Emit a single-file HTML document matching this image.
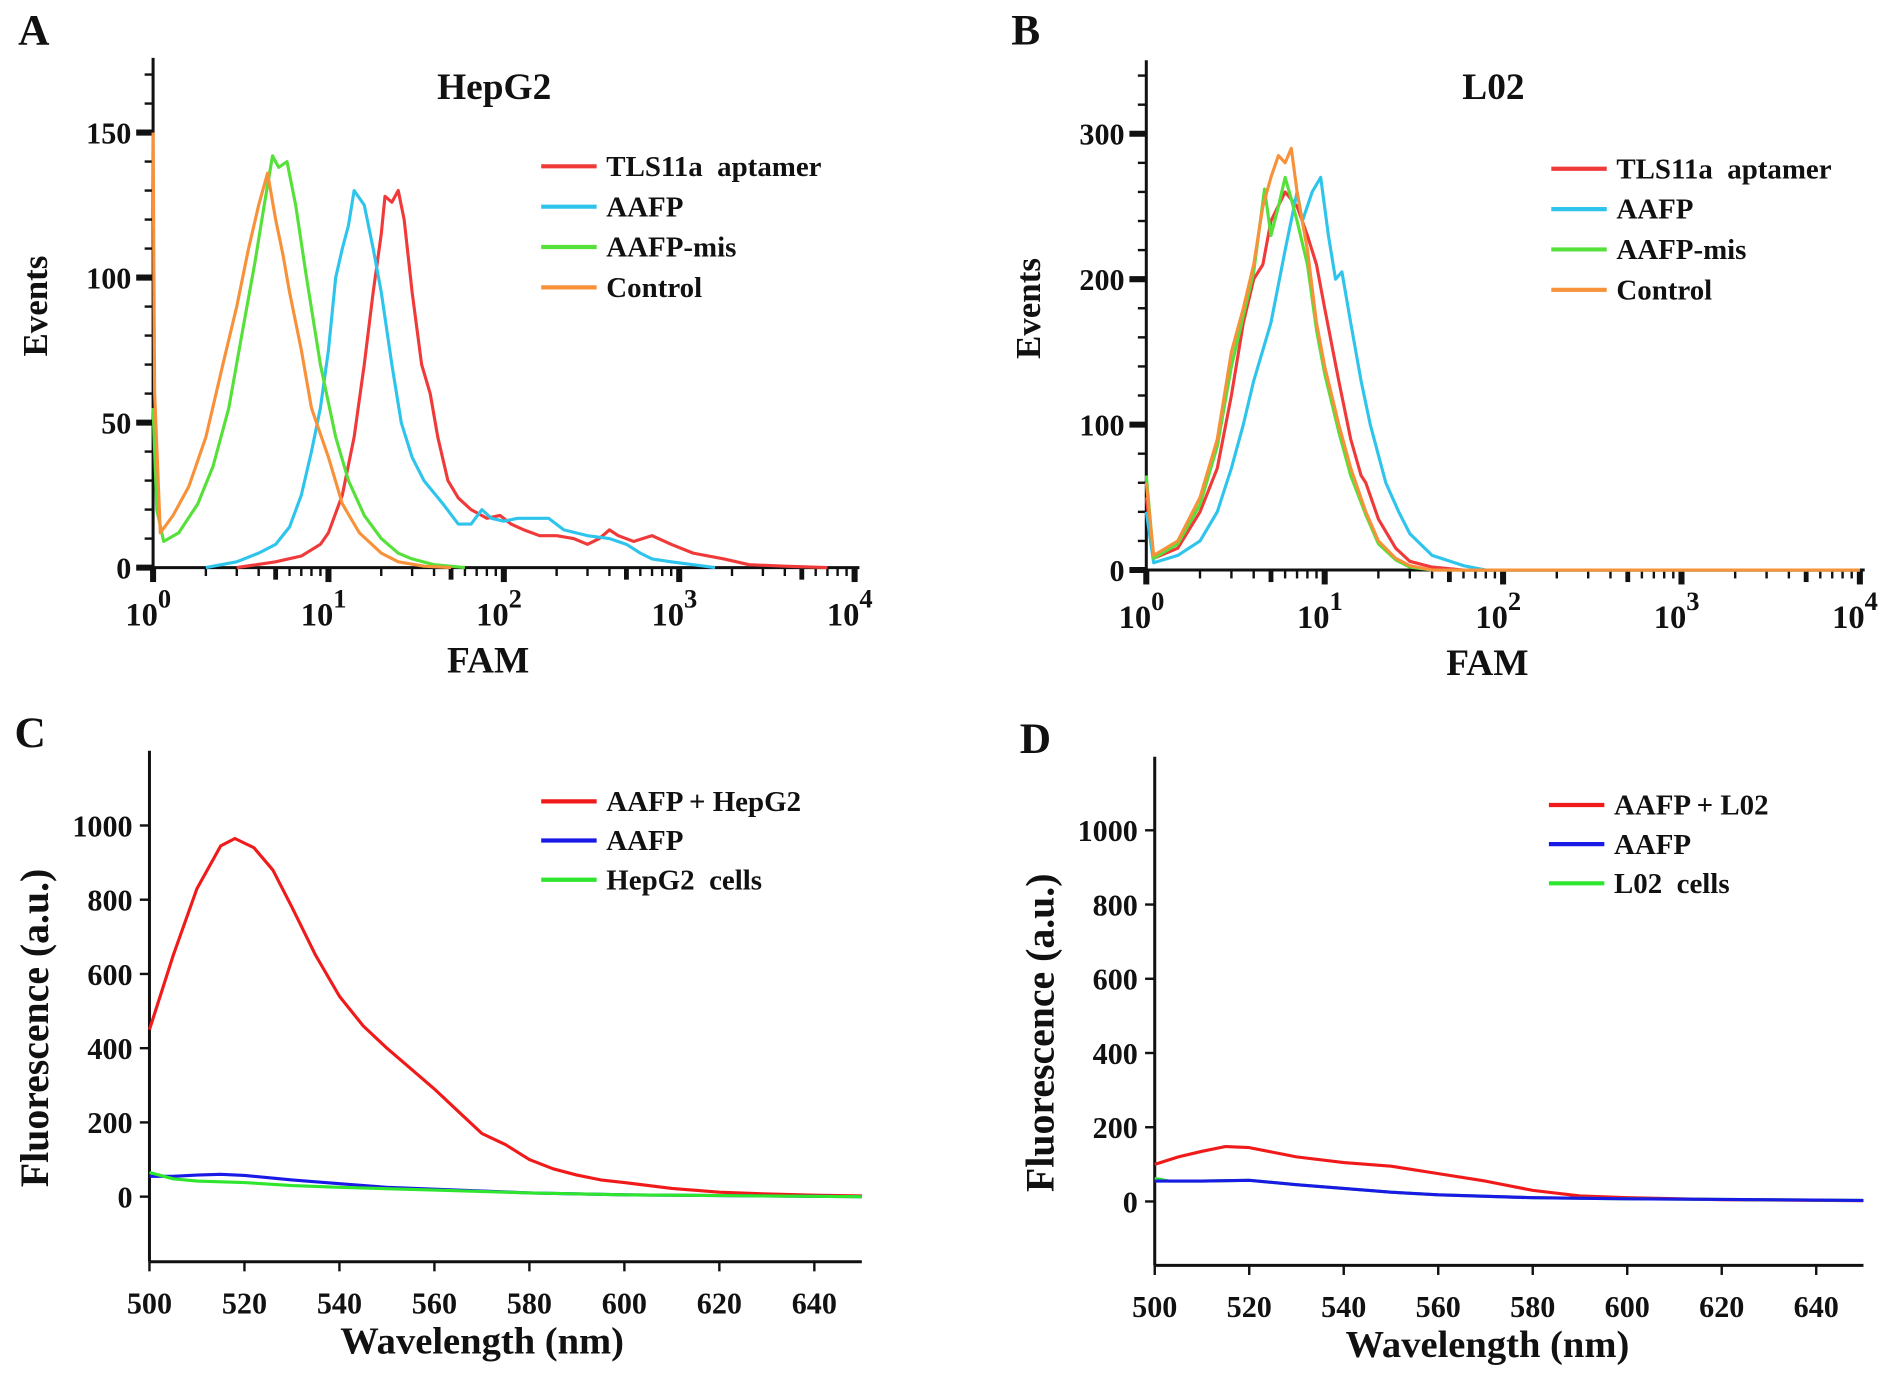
<!DOCTYPE html>
<html><head><meta charset="utf-8">
<style>
html,body{margin:0;padding:0;background:#fff;}
svg{display:block;font-family:"Liberation Serif",serif;font-weight:bold;}
text{white-space:pre;}
</style></head>
<body>
<svg id="fig" width="1890" height="1375" viewBox="0 0 1568 1141" preserveAspectRatio="none" xmlns="http://www.w3.org/2000/svg">
<g id="A"></g>
<g id="B"></g>
<g id="C"></g>
<g id="D"></g>
</svg>
<script>
// ---- Panel A (HepG2 flow cytometry): FAM (log) vs events ----
const aCtrlX=[1.0,1.02,1.1,1.3,1.6,2.0,2.5,3,3.5,4,4.5,5,5.5,6,7,8,10,12,15,20,25,35,50];
const aCtrlY=[150,60,12,18,28,45,70,90,110,125,136,120,108,95,75,55,38,22,12,5,2,0.5,0];
const aMisX=[1.0,1.05,1.15,1.4,1.8,2.2,2.7,3.2,3.8,4.3,4.8,5.2,5.8,6.5,7.5,9,11,13,16,20,25,30,40,60];
const aMisY=[55,20,9,12,22,35,55,80,105,125,142,138,140,125,100,70,45,30,18,10,5,3,1,0];
const aAafpX=[2,3,4,5,6,7,8,9,10,11,12,13,14,16,18,20,23,26,30,35,45,55,65,75,85,100,120,150,180,220,300,400,500,600,700,900,1200,1600];
const aAafpY=[0,2,5,8,14,25,40,55,75,100,110,118,130,125,110,95,70,50,38,30,22,15,15,20,17,16,17,17,17,13,11,10,8,5,3,2,1,0];
const aTlsX=[3,5,7,9,10,12,14,16,18,20,21,23,25,27,30,34,38,42,48,55,65,80,95,110,130,160,200,250,300,350,400,450,550,700,900,1200,1800,2500,4000,7000];
const aTlsY=[0,2,4,8,12,25,45,70,95,115,128,126,130,120,95,70,60,45,30,24,20,17,18,15,13,11,11,10,8,10,13,11,9,11,8,5,3,1,0.5,0];
const aYTicks=[0,50,100,150];
// ---- Panel B (L02) ----
const bCtrlX=[1,1.1,1.5,2,2.5,3,3.5,4,4.5,5,5.5,6,6.5,7,8,9,10,12,14,17,20,25,30,40,10000];
const bCtrlY=[60,10,20,50,90,150,180,210,250,270,285,280,290,260,220,170,140,100,70,40,20,8,3,0,0];
const bMisX=[1,1.1,1.5,2,2.5,3,3.5,4,4.6,5,5.5,6,6.5,7,8,9,10,12,14,17,20,25,30,40,10000];
const bMisY=[65,8,18,45,85,140,175,205,262,230,250,270,255,240,210,165,135,95,65,38,18,7,2,0,0];
const bTlsX=[1,1.1,1.5,2,2.5,3,3.5,4,4.5,5,6,7,8,9,10,12,14,16,17,20,25,30,40,60,10000];
const bTlsY=[50,8,15,40,70,120,170,200,210,240,260,250,230,210,180,130,90,65,60,35,15,6,2,0,0];
const bAafpX=[1,1.1,1.5,2,2.5,3,3.5,4,5,6,7,7.5,8.5,9.5,10.5,11.5,12.5,14,16,18,22,26,30,40,60,80,10000];
const bAafpY=[40,5,10,20,40,70,100,130,170,220,260,240,260,270,230,200,205,170,130,100,60,40,25,10,3,0,0];
const bYTicks=[0,100,200,300];
const decades=[0,1,2,3,4];
// ---- Panel C (HepG2 spectra) ----
const cRedX=[500,505,510,515,518,522,526,530,535,540,545,550,555,560,565,570,575,580,585,590,595,600,610,620,630,640,650];
const cRedY=[450,650,830,945,965,940,880,780,650,540,460,400,345,290,230,170,140,100,75,58,45,38,22,12,7,4,2];
const cBlueX=[500,505,510,515,520,530,540,550,560,580,600,620,650];
const cBlueY=[55,55,58,60,57,45,35,25,20,10,5,3,0];
const cGreenX=[500,505,510,520,530,540,560,580,600,620,650];
const cGreenY=[65,48,42,38,30,25,18,10,5,3,0];
// ---- Panel D (L02 spectra) ----
const dRedX=[500,505,510,515,520,530,540,550,560,570,580,590,600,620,650];
const dRedY=[100,120,135,148,145,120,105,95,75,55,30,15,10,5,2];
const dBlueX=[500,510,520,530,540,550,560,580,600,650];
const dBlueY=[55,55,57,45,35,25,18,10,7,3];
const dGreenX=[500,503,510,520,530,540,550,560,580,600,650];
const dGreenY=[62,55,55,57,45,35,25,18,10,7,3];
const wlTicks=[500,520,540,560,580,600,620,640];
const flTicks=[0,200,400,600,800,1000];

const NS="http://www.w3.org/2000/svg";
function mk(parent,tag,attrs){const e=document.createElementNS(NS,tag);for(const k in attrs)e.setAttribute(k,attrs[k]);parent.appendChild(e);return e;}
function txt(parent,x,y,s,size,anchor,name){const t=mk(parent,'text',{x:x,y:y,'font-size':size,'text-anchor':anchor||'start',fill:'#111'});t.textContent=s;


return t;}
function line(parent,x1,y1,x2,y2,w,name){const l=mk(parent,'line',{x1:x1,y1:y1,x2:x2,y2:y2,stroke:'#111','stroke-width':w});


return l;}
function series(parent,xs,ys,sx,sy,color,name){let d='';xs.forEach((v,i)=>{d+=(i?'L':'M')+sx(v).toFixed(1)+','+sy(ys[i]).toFixed(1);});
const p=mk(parent,'path',{d:d,fill:'none',stroke:color,'stroke-width':2.6,'stroke-linejoin':'round'});

}
function legend(parent,x,y0,dy,items){items.forEach((it,i)=>{const y=y0+i*dy;
const l=mk(parent,'line',{x1:x,y1:y,x2:x+46,y2:y,stroke:it[1],'stroke-width':3.5});


txt(parent,x+54,y+8,it[0],24,'start','legend-label-'+it[2]);});}

function logPanel(g,o){
 const sx=v=>o.x0+Math.log10(v)*o.dec, sy=v=>o.y0-v*o.k;
 line(g,o.x0,o.top,o.x0,o.y0,2.5,'y-axis');
 line(g,o.x0,o.y0,o.x0+4*o.dec+4,o.y0,2.5,'x-axis');
 for(let v=0;sy(v)>=o.top;v+=o.minor){const maj=o.ticks.includes(v);
  line(g,o.x0-(maj?14:7),sy(v),o.x0,sy(v),maj?5:2,'y-tick');}
 o.ticks.forEach(v=>txt(g,o.x0-18,sy(v)+9,String(v),25,'end','y-tick-label'));
 decades.forEach(d=>{const x=o.x0+d*o.dec;line(g,x,o.y0,x,o.y0+12,5,'x-tick-major');
  const t=txt(g,x-4,o.y0+48,'10',27,'middle','x-tick-label');
  const s=mk(t,'tspan',{dy:-15,'font-size':22});s.textContent=String(d);
  if(d<4)for(let m=2;m<10;m++){const xm=o.x0+(d+Math.log10(m))*o.dec;line(g,xm,o.y0,xm,o.y0+(m==5?10:7),m==5?4:2,'x-tick-minor');}});
 txt(g,o.x0+2*o.dec-13,o.y0+87,'FAM',31,'middle','x-axis-title');
 const yt=txt(g,0,0,'Events',29,'middle','y-axis-title');yt.setAttribute('transform','translate('+(o.x0-88)+','+(o.y0-217)+') rotate(-90)');
 txt(g,o.x0+2*o.dec-8,82,o.title,31,'middle','panel-title');
 txt(g,o.x0-112,37,o.letter,36,'start','panel-letter');
 o.ser.forEach(s=>series(g,s[0],s[1],sx,sy,s[2],s[3]));
 legend(g,o.lx,o.ly,33.5,o.leg);
}
logPanel(document.getElementById('A'),{x0:127,dec:145.5,y0:471,k:361/150,top:48,minor:10,ticks:aYTicks,title:'HepG2',letter:'A',
 ser:[[aTlsX,aTlsY,'#f03a3a','series-tls11a'],[aAafpX,aAafpY,'#2fc4ec','series-aafp'],[aMisX,aMisY,'#55e03a','series-aafp-mis'],[aCtrlX,aCtrlY,'#f7913a','series-control']],
 lx:449,ly:138,leg:[['TLS11a  aptamer','#f03a3a','tls11a'],['AAFP','#2fc4ec','aafp'],['AAFP-mis','#55e03a','aafp-mis'],['Control','#f7913a','control']]});
logPanel(document.getElementById('B'),{x0:951,dec:148,y0:473,k:362/300,top:50,minor:20,ticks:bYTicks,title:'L02',letter:'B',
 ser:[[bTlsX,bTlsY,'#f03a3a','series-tls11a'],[bAafpX,bAafpY,'#2fc4ec','series-aafp'],[bMisX,bMisY,'#55e03a','series-aafp-mis'],[bCtrlX,bCtrlY,'#f7913a','series-control']],
 lx:1287,ly:140,leg:[['TLS11a  aptamer','#f03a3a','tls11a'],['AAFP','#2fc4ec','aafp'],['AAFP-mis','#55e03a','aafp-mis'],['Control','#f7913a','control']]});

function specPanel(g,o){
 const sx=v=>o.x0+(v-500)*o.px, sy=v=>o.y0-v*o.k;
 line(g,o.x0,o.top,o.x0,o.bot,2.5,'y-axis');
 line(g,o.x0,o.bot,o.x0+150*o.px,o.bot,2.5,'x-axis');
 flTicks.forEach(v=>{line(g,o.x0-8,sy(v),o.x0,sy(v),2,'y-tick');txt(g,o.x0-14,sy(v)+9,String(v),25,'end','y-tick-label');});
 wlTicks.forEach(v=>{line(g,sx(v),o.bot,sx(v),o.bot+8,2,'x-tick');txt(g,sx(v),o.bot+43,String(v),25,'middle','x-tick-label');});
 txt(g,o.x0+276,o.bot+76,'Wavelength (nm)',32,'middle','x-axis-title');
 const yt=txt(g,0,0,'Fluorescence (a.u.)',33,'middle','y-axis-title');yt.setAttribute('transform','translate('+(o.x0-84)+','+(o.y0-140)+') rotate(-90)');
 txt(g,o.x0-112,o.top-3,o.letter,36,'start','panel-letter');
 o.ser.forEach(s=>series(g,s[0],s[1],sx,sy,s[2],s[3]));
 legend(g,o.lx,o.ly,32.5,o.leg);
}
specPanel(document.getElementById('C'),{x0:124,px:78.8/20,y0:993,k:308/1000,top:623,bot:1047,letter:'C',
 ser:[[cRedX,cRedY,'#f01a1a','series-aafp-hepg2'],[cBlueX,cBlueY,'#1a1ae6','series-aafp'],[cGreenX,cGreenY,'#2ee62e','series-hepg2-cells']],
 lx:449,ly:665,leg:[['AAFP + HepG2','#f01a1a','aafp-hepg2'],['AAFP','#1a1ae6','aafp'],['HepG2  cells','#2ee62e','hepg2-cells']]});
specPanel(document.getElementById('D'),{x0:958,px:78.4/20,y0:997,k:308/1000,top:628,bot:1050,letter:'D',
 ser:[[dRedX,dRedY,'#f01a1a','series-aafp-l02'],[dGreenX,dGreenY,'#2ee62e','series-l02-cells'],[dBlueX,dBlueY,'#1a1ae6','series-aafp']],
 lx:1285,ly:668,leg:[['AAFP + L02','#f01a1a','aafp-l02'],['AAFP','#1a1ae6','aafp'],['L02  cells','#2ee62e','l02-cells']]});
</script>
</body></html>
